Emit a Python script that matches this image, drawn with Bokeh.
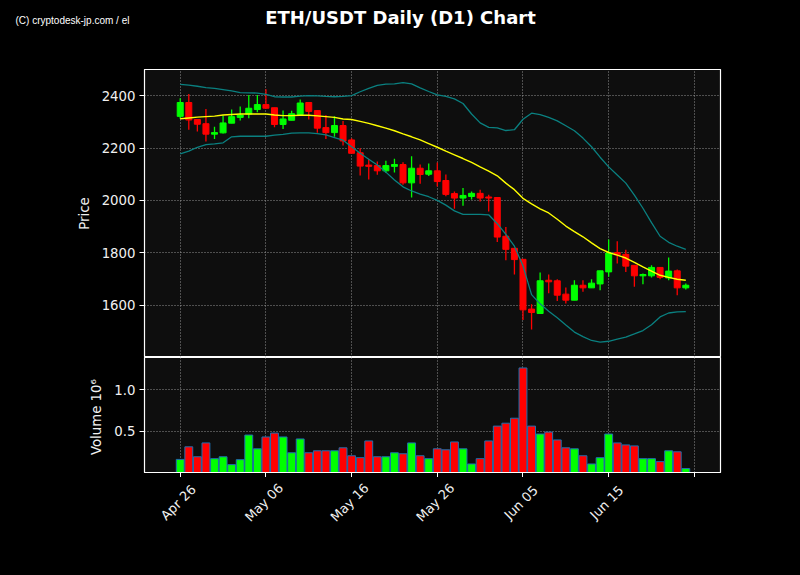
import math
import pandas as pd
from bokeh.plotting import figure
from bokeh.models import ColumnDataSource, Range1d, FixedTicker, PrintfTickFormatter
from bokeh.layouts import column
from bokeh.embed import file_html
from bokeh.resources import INLINE
from bokeh.core.properties import value

# ---------------- data ----------------
dates = pd.date_range("2023-04-26", periods=60, freq="D")

opens = [2321, 2374, 2309, 2293, 2253, 2258, 2295, 2317, 2330, 2347,
         2366, 2354, 2290, 2306, 2328, 2374, 2343, 2278, 2259, 2286,
         2231, 2182, 2135, 2133, 2113, 2130, 2137, 2067, 2123, 2100,
         2113, 2076, 2026, 2009, 2015, 2027, 2013, 2011, 1863, 1817,
         1775, 1585, 1568, 1695, 1693, 1642, 1619, 1676, 1666, 1681,
         1727, 1801, 1794, 1752, 1712, 1712, 1744, 1704, 1731, 1666]
highs = [2390, 2406, 2311, 2349, 2281, 2324, 2347, 2359, 2403, 2403,
         2425, 2354, 2343, 2342, 2385, 2374, 2343, 2326, 2321, 2303,
         2237, 2199, 2159, 2149, 2151, 2159, 2146, 2169, 2137, 2141,
         2145, 2099, 2034, 2047, 2034, 2041, 2022, 2011, 1898, 1817,
         1775, 1603, 1725, 1717, 1699, 1667, 1695, 1695, 1699, 1731,
         1851, 1844, 1812, 1752, 1721, 1752, 1744, 1782, 1736, 1683]
lows = [2312, 2270, 2263, 2225, 2235, 2256, 2295, 2305, 2314, 2337,
        2350, 2279, 2273, 2306, 2328, 2309, 2258, 2235, 2243, 2210,
        2180, 2095, 2080, 2098, 2105, 2107, 2060, 2011, 2064, 2093,
        2053, 2016, 1968, 1980, 2003, 1996, 1958, 1841, 1771, 1717,
        1543, 1507, 1568, 1645, 1616, 1606, 1619, 1651, 1666, 1657,
        1708, 1759, 1727, 1670, 1680, 1706, 1699, 1695, 1638, 1660]
closes = [2374, 2307, 2291, 2253, 2259, 2296, 2320, 2326, 2352, 2366,
          2352, 2290, 2311, 2331, 2372, 2340, 2276, 2259, 2286, 2227,
          2180, 2131, 2130, 2113, 2133, 2137, 2067, 2123, 2099, 2113,
          2072, 2023, 2009, 2019, 2027, 2009, 2009, 1860, 1813, 1774,
          1582, 1572, 1693, 1689, 1638, 1619, 1676, 1666, 1684, 1731,
          1799, 1792, 1749, 1712, 1717, 1744, 1706, 1730, 1666, 1676]
volumes_m = [0.158, 0.310, 0.190, 0.357, 0.167, 0.190, 0.095, 0.155, 0.452, 0.286,
             0.429, 0.476, 0.429, 0.238, 0.405, 0.238, 0.262, 0.262, 0.262, 0.298,
             0.202, 0.179, 0.381, 0.190, 0.190, 0.238, 0.226, 0.357, 0.202, 0.167,
             0.286, 0.274, 0.369, 0.286, 0.103, 0.167, 0.381, 0.560, 0.595, 0.655,
             1.262, 0.560, 0.464, 0.488, 0.393, 0.298, 0.286, 0.202, 0.103, 0.179,
             0.464, 0.357, 0.333, 0.321, 0.167, 0.167, 0.131, 0.262, 0.250, 0.048]
sma = [2312, 2315, 2318, 2320, 2322, 2326, 2328, 2330, 2330, 2330,
       2330, 2326, 2324, 2324, 2325, 2325, 2323, 2320, 2317, 2311,
       2309, 2302, 2294, 2285, 2276, 2266, 2254, 2243, 2231, 2217,
       2203, 2188, 2174, 2160, 2145, 2128, 2112, 2094, 2066, 2041,
       2008, 1987, 1968, 1952, 1928, 1902, 1881, 1861, 1838, 1816,
       1801, 1791, 1780, 1763, 1746, 1730, 1714, 1706, 1699, 1695]
bb_upper = [2443, 2440, 2436, 2431, 2428, 2423, 2418, 2412, 2411, 2410,
            2405, 2396, 2395, 2395, 2398, 2400, 2399, 2397, 2396, 2397,
            2400, 2415, 2428, 2439, 2444, 2445, 2450, 2445, 2430, 2416,
            2403, 2397, 2388, 2370, 2330, 2296, 2279, 2277, 2267, 2270,
            2310, 2333, 2328, 2317, 2304, 2285, 2266, 2238, 2205, 2165,
            2128, 2097, 2066, 2020, 1970, 1915, 1863, 1840, 1825, 1813]
bb_lower = [2178, 2188, 2203, 2213, 2216, 2220, 2243, 2245, 2245, 2245,
            2245, 2249, 2252, 2257, 2258, 2258, 2255, 2250, 2240, 2230,
            2205, 2180, 2157, 2135, 2108, 2078, 2052, 2036, 2024, 2014,
            2000, 1982, 1960, 1947, 1947, 1947, 1945, 1911, 1870, 1825,
            1750, 1640, 1605, 1577, 1552, 1524, 1497, 1480, 1465, 1459,
            1462, 1470, 1478, 1490, 1503, 1525, 1555, 1570, 1574, 1575]

price_ticks = [1600, 1800, 2000, 2200, 2400]
volume_ticks = [0.5, 1.0]
date_ticks = ["2023-04-26", "2023-05-06", "2023-05-16", "2023-05-26",
              "2023-06-05", "2023-06-15", "2023-06-25"]
date_tick_labels = ["Apr 26", "May 06", "May 16", "May 26", "Jun 05", "Jun 15", ""]

title_text = "ETH/USDT Daily (D1) Chart"
copyright_text = "(C) cryptodesk-jp.com / el"

# ---------------- derived ----------------
x = [(d - dates[0]).days for d in dates]
tick_x = [(pd.Timestamp(t) - dates[0]).days for t in date_ticks]
UP, DOWN = "#00ff00", "#ff0000"
colors = [UP if c > o else DOWN for o, c in zip(opens, closes)]
src = ColumnDataSource(dict(
    x=x, o=opens, h=highs, l=lows, c=closes,
    top=[max(o, c) for o, c in zip(opens, closes)],
    bot=[min(o, c) for o, c in zip(opens, closes)],
    vol=volumes_m, color=colors, sma=sma, up=bb_upper, lo=bb_lower,
))

FONT = "DejaVu Sans"
TXT = "#f0f0f0"
FRAME_BG = "#0e0e0e"
W = 784
BL, BR = 136, 72
xr = Range1d(-4.17, 63.05)


def style(fig):
    fig.background_fill_color = FRAME_BG
    fig.border_fill_color = "black"
    fig.outline_line_color = "white"
    fig.outline_line_width = 1.2
    fig.grid.grid_line_color = "#a0a0a0"
    fig.grid.grid_line_dash = "1 2"
    fig.grid.grid_line_width = 1
    fig.grid.grid_line_alpha = 0.9
    for ax in fig.yaxis + fig.xaxis:
        ax.axis_line_color = "white"
        ax.major_tick_line_color = "white"
        ax.major_tick_out = 5
        ax.major_tick_in = 0
        ax.minor_tick_line_color = None
        ax.major_label_text_color = TXT
        ax.major_label_text_font = FONT
        ax.major_label_text_font_size = "13.3px"
        ax.major_label_standoff = 4
        ax.axis_label_text_color = TXT
        ax.axis_label_text_font = FONT
        ax.axis_label_text_font_size = "13.3px"
        ax.axis_label_text_font_style = "normal"
        ax.axis_label_standoff = 7


def blank(fig):
    fig.background_fill_color = "black"
    fig.border_fill_color = "black"
    fig.outline_line_color = None
    fig.grid.visible = False
    fig.axis.visible = False


# ---------------- header (title + credit) ----------------
HH = 61
hdr = figure(width=W, height=HH, x_range=Range1d(0, W), y_range=Range1d(0, HH),
             output_backend="svg", toolbar_location=None,
             min_border_left=0, min_border_right=0, min_border_top=0, min_border_bottom=0,
             x_axis_location=None, y_axis_location=None)
hdr.frame_align = False
blank(hdr)
hdr.text(x=[392], y=[HH - 9], text=[title_text], text_font=value(FONT),
         text_font_style="bold", text_font_size="18px", text_color="white",
         text_align="center", text_baseline="alphabetic")
hdr.text(x=[7], y=[HH - 12], text=[copyright_text], text_font=value("Liberation Sans"),
         text_font_size="10px", text_color="white",
         text_align="left", text_baseline="alphabetic")

# ---------------- price panel ----------------
p = figure(width=W, height=288, x_range=xr, y_range=Range1d(1400, 2500),
           output_backend="svg", toolbar_location=None,
           min_border_left=BL, min_border_right=BR, min_border_top=0,
           min_border_bottom=0)
style(p)
p.xaxis.visible = False
p.xgrid.ticker = FixedTicker(ticks=tick_x)
p.yaxis.ticker = FixedTicker(ticks=price_ticks)
p.yaxis.axis_label = "Price"

p.segment(x0="x", y0="l", x1="x", y1="h", source=src, line_color="color", line_width=1.3)
p.vbar(x="x", width=0.7, top="top", bottom="bot", source=src,
       fill_color="color", line_color="color", line_width=1)
p.line("x", "up", source=src, line_color="#0a8080", line_width=1.3)
p.line("x", "lo", source=src, line_color="#0a8080", line_width=1.3)
p.line("x", "sma", source=src, line_color="#ffff00", line_width=1.4)

# ---------------- volume panel ----------------
VB = 5
v = figure(width=W, height=115 + VB, x_range=xr, y_range=Range1d(0.0, 1.388),
           output_backend="svg", toolbar_location=None,
           min_border_left=BL, min_border_right=BR, min_border_top=0,
           min_border_bottom=VB)
style(v)
v.vbar(x="x", width=0.92, top="vol", bottom=0, source=src,
       fill_color="color", line_color="#1f6fb0", line_width=1)
v.yaxis.ticker = FixedTicker(ticks=volume_ticks)
v.yaxis.formatter = PrintfTickFormatter(format="%.1f")
v.yaxis.axis_label = "Volume  10⁶"
v.xaxis.ticker = FixedTicker(ticks=tick_x)
v.xaxis.major_label_overrides = {t: "" for t in tick_x}
v.xaxis.major_label_text_font_size = "0px"
v.xaxis.major_label_standoff = 0
v.xgrid.ticker = FixedTicker(ticks=tick_x)

# ---------------- footer: rotated date labels ----------------
FH = 559 - HH - 288 - (115 + VB)
ftr = figure(width=W, height=FH, x_range=xr, y_range=Range1d(0, FH),
             output_backend="svg", toolbar_location=None,
             min_border_left=BL, min_border_right=BR, min_border_top=0, min_border_bottom=0,
             x_axis_location=None, y_axis_location=None)
blank(ftr)
ftr.text(x=[t - 0.22 for t in tick_x], y=[FH - 25] * len(tick_x), text=date_tick_labels,
         angle=math.pi / 4, text_font=value(FONT), text_font_size="13px",
         text_color=TXT, text_align="center", text_baseline="middle")

layout = column(hdr, p, v, ftr, spacing=0)
layout.styles = {"background-color": "black"}

html = file_html(layout, INLINE, title="ETH/USDT Daily (D1) Chart")
html = html.replace("<body>", '<body style="background-color:black; margin:8px;">')
open("out.html", "w").write(html)
